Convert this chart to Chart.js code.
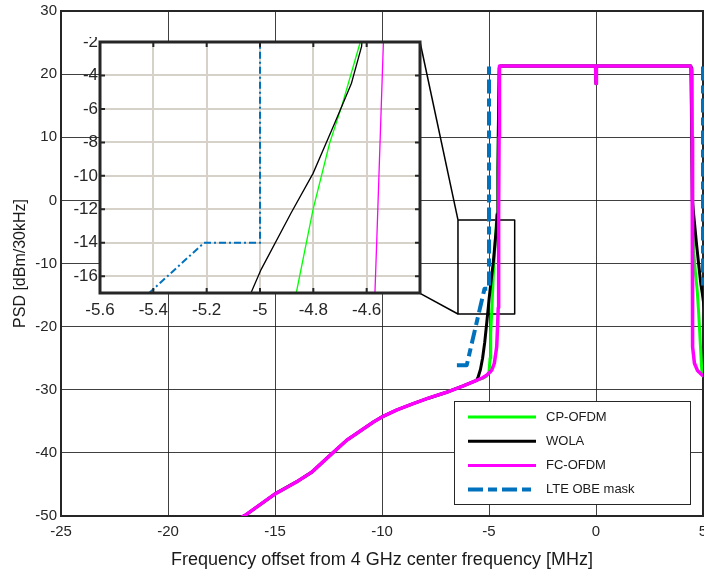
<!DOCTYPE html>
<html>
<head>
<meta charset="utf-8">
<script src="https://cdn.jsdelivr.net/npm/chart.js@4.4.0/dist/chart.umd.min.js"></script>
<style>
    html, body { margin: 0; padding: 0; background: #fff; }
    #wrap { position: relative; width: 704px; height: 572px; }
    #main { position: absolute; left: 0; top: 0; }
    #inset { position: absolute; left: 50px; top: 37px; }
</style>
</head>
<body>
<div id="wrap">
    <canvas id="main" width="704" height="572"></canvas>
    <canvas id="inset" width="375" height="290"></canvas>
</div>
<script>
// out-of-band floor, shared by the three waveforms
const floorFreq = [-17.0, -16.4, -15.0, -14.0, -13.28, -12.43, -11.65, -10.4, -10.0, -9.3, -8.54, -7.8, -6.98, -6.2, -5.58];
const floorPsd  = [-51.0, -49.9, -46.5, -44.6, -43.05, -40.4, -38.0, -35.1, -34.3, -33.2, -32.2, -31.3, -30.4, -29.4, -28.5];

// passband (with the DC notch)
const bandFreq = [-4.45, -0.02, 0, 0.02, 4.42];
const bandPsd  = [21.3, 21.3, 18.5, 21.3, 21.3];

// CP-OFDM edges
const cpLeftFreq  = [-5.3, -5.1, -5.0, -4.95, -4.92, -4.864, -4.801, -4.739, -4.694, -4.625, -4.58, -4.55, -4.52];
const cpLeftPsd   = [-28.2, -27.8, -27.2, -25.0, -21.0, -17.0, -12.0, -8.05, -5.86, -2.06, 5.0, 15.0, 21.0];
const cpRightFreq = [4.44, 4.48, 4.52, 4.56, 4.66, 4.73, 4.8, 4.88, 4.95, 5.1];
const cpRightPsd  = [21.0, 10.0, 0.0, -8.0, -12.0, -14.3, -18.0, -23.0, -27.4, -28.2];

// WOLA edges
const wolaLeftFreq  = [-5.5, -5.4, -5.3, -5.2, -5.1, -5.034, -4.996, -4.883, -4.801, -4.72, -4.657, -4.619, -4.58, -4.55, -4.52];
const wolaLeftPsd   = [-27.9, -26.8, -25.0, -22.5, -19.2, -17.0, -15.6, -12.2, -9.85, -6.85, -4.46, -2.26, 5.0, 15.0, 21.0];
const wolaRightFreq = [4.44, 4.47, 4.5, 4.6, 4.7, 4.8, 4.9, 4.97, 5.1];
const wolaRightPsd  = [21.0, 10.0, 0.0, -3.5, -7.0, -10.2, -13.3, -14.8, -18.0];

// FC-OFDM edges
const fcLeftFreq  = [-5.3, -5.11, -4.95, -4.87, -4.75, -4.64, -4.6, -4.569, -4.562, -4.537, -4.53, -4.52, -4.5];
const fcLeftPsd   = [-28.1, -27.7, -27.2, -26.9, -25.8, -23.2, -20.0, -17.0, -13.8, -1.9, 10.0, 20.5, 21.3];
const fcRightFreq = [4.47, 4.49, 4.5, 4.51, 4.53, 4.6, 4.75, 4.97, 5.2];
const fcRightPsd  = [20.5, 10.0, -10.0, -20.0, -23.2, -25.8, -27.0, -27.7, -28.1];

// LTE out-of-band emission mask
const maskFreq = [-6.5, -6.04, -5.21, -5.0, -5.0, 0, 5.0, 5.0, 5.21, 6.04, 6.5];
const maskPsd  = [-26.1, -26.1, -14.0, -14.0, 21.2, null, 21.2, -14.0, -14.0, -26.1, -26.1];

// zoom box on the main axes and the lines going to the inset corners
const boxFreq = [-6.45, -3.8, -3.8, -6.45, -6.45];
const boxPsd  = [-3.1, -3.1, -18.0, -18.0, -3.1];
const linkTopFreq = [-8.22, -6.45];
const linkTopPsd  = [25.05, -3.1];
const linkBotFreq = [-8.22, -6.45];
const linkBotPsd  = [-14.72, -18.0];

const labels = ['CP-OFDM', 'WOLA', 'FC-OFDM', 'LTE OBE mask'];
const colores = ['#00ff00', '#000000', '#ff00ff', '#0072bd'];

const xTicksMain = { min: -25, max: 5, step: 5 };
const yTicksMain = { min: -50, max: 30, step: 10 };
const xTicksInset = { min: -5.6, max: -4.4, step: 0.2 };
const yTicksInset = { min: -17, max: -2, step: 2 };

function puntos(xs, ys) {
    return xs.map((x, i) => ({ x: x, y: ys[i] }));
}

const cpData = puntos(floorFreq.concat(cpLeftFreq, bandFreq, cpRightFreq), floorPsd.concat(cpLeftPsd, bandPsd, cpRightPsd));
const wolaData = puntos(floorFreq.concat(wolaLeftFreq, bandFreq, wolaRightFreq), floorPsd.concat(wolaLeftPsd, bandPsd, wolaRightPsd));
const fcData = puntos(floorFreq.concat(fcLeftFreq, bandFreq, fcRightFreq), floorPsd.concat(fcLeftPsd, bandPsd, fcRightPsd));
const maskData = puntos(maskFreq, maskPsd);

Chart.defaults.font.family = '"Liberation Sans", Arial, sans-serif';
Chart.defaults.color = '#262626';

const fuente = '"Liberation Sans", Arial, sans-serif';

// frame + legend for the main axes
const marcoMain = {
    id: 'marcoMain',
    beforeDatasetsDraw(chart) {
        const { ctx, chartArea: a } = chart;
        ctx.save();
        ctx.strokeStyle = '#262626';
        ctx.lineWidth = 2;
        ctx.strokeRect(a.left, a.top, a.right - a.left, a.bottom - a.top);
        ctx.restore();
    },
    afterDraw(chart) {
        const ctx = chart.ctx;
        ctx.save();
        ctx.fillStyle = '#ffffff';
        ctx.fillRect(454.5, 401.5, 236, 103);
        ctx.strokeStyle = '#262626';
        ctx.lineWidth = 1;
        ctx.strokeRect(454.5, 401.5, 236, 103);
        ctx.font = '13px ' + fuente;
        ctx.textBaseline = 'middle';
        ctx.textAlign = 'left';
        labels.forEach((label, i) => {
            const y = 417 + i * 24.2;
            ctx.beginPath();
            ctx.strokeStyle = colores[i];
            ctx.lineWidth = i === 3 ? 4 : 3;
            ctx.setLineDash(i === 3 ? [15, 5, 9, 5] : []);
            ctx.moveTo(468, y);
            ctx.lineTo(536, y);
            ctx.stroke();
            ctx.setLineDash([]);
            ctx.fillStyle = '#1a1a1a';
            ctx.fillText(label, 546, y);
        });
        ctx.restore();
    }
};

const ctxMain = document.getElementById('main').getContext('2d');
const graficaMain = new Chart(ctxMain, {
    type: 'line',
    data: {
        datasets: [
            { label: labels[3], data: maskData, borderColor: colores[3], borderWidth: 4, borderDash: [14, 5, 8, 5], spanGaps: false, order: 0, clip: { left: 0, top: 2, right: 3, bottom: 0 } },
            { label: labels[2], data: fcData, borderColor: colores[2], borderWidth: 3.5, order: 1 },
            { label: labels[1], data: wolaData, borderColor: colores[1], borderWidth: 3, order: 2 },
            { label: labels[0], data: cpData, borderColor: colores[0], borderWidth: 3, order: 3 },
            { data: puntos(boxFreq, boxPsd), borderColor: '#000', borderWidth: 1.5, order: 4 },
            { data: puntos(linkTopFreq, linkTopPsd), borderColor: '#000', borderWidth: 1.5, order: 4 },
            { data: puntos(linkBotFreq, linkBotPsd), borderColor: '#000', borderWidth: 1.5, order: 4 }
        ]
    },
    options: {
        responsive: false,
        animation: false,
        elements: { point: { radius: 0 }, line: { tension: 0, borderJoinStyle: 'round' } },
        layout: { padding: { top: 11, right: 1, left: 0, bottom: 0 } },
        plugins: { legend: { display: false }, tooltip: { enabled: false } },
        scales: {
            x: {
                type: 'linear',
                min: xTicksMain.min,
                max: xTicksMain.max,
                ticks: { stepSize: xTicksMain.step, padding: 7, font: { size: 15 }, maxRotation: 0 },
                grid: { color: 'rgba(30,30,30,0.85)', lineWidth: 1, drawTicks: false },
                border: { display: false },
                title: { display: true, text: 'Frequency offset from 4 GHz center frequency [MHz]', font: { size: 18 }, padding: { top: 0, bottom: 1 }, color: '#1a1a1a' },
                afterFit: s => { s.height = 56; s.paddingLeft = 0; s.paddingRight = 0; }
            },
            y: {
                type: 'linear',
                min: yTicksMain.min,
                max: yTicksMain.max,
                ticks: { stepSize: yTicksMain.step, padding: 4, font: { size: 15 } },
                grid: { color: 'rgba(30,30,30,0.85)', lineWidth: 1, drawTicks: false },
                border: { display: false },
                title: { display: true, text: 'PSD [dBm/30kHz]', font: { size: 16 }, padding: { top: 11, bottom: 0 }, color: '#1a1a1a' },
                afterFit: s => { s.width = 61; s.paddingTop = 0; s.paddingBottom = 0; }
            }
        }
    },
    plugins: [marcoMain]
});

// inset: white plot area, thick frame, inward tick marks
const marcoInset = {
    id: 'marcoInset',
    beforeDraw(chart) {
        const { ctx, chartArea: a } = chart;
        ctx.save();
        ctx.fillStyle = '#ffffff';
        ctx.fillRect(a.left, a.top, a.right - a.left, a.bottom - a.top);
        ctx.restore();
    },
    afterDraw(chart) {
        const { ctx, chartArea: a, scales } = chart;
        ctx.save();
        ctx.strokeStyle = '#262626';
        ctx.lineWidth = 2;
        scales.x.ticks.forEach(t => {
            const px = scales.x.getPixelForValue(t.value);
            ctx.beginPath();
            ctx.moveTo(px, a.bottom); ctx.lineTo(px, a.bottom - 5);
            ctx.moveTo(px, a.top); ctx.lineTo(px, a.top + 5);
            ctx.stroke();
        });
        scales.y.ticks.forEach(t => {
            const py = scales.y.getPixelForValue(t.value);
            ctx.beginPath();
            ctx.moveTo(a.left, py); ctx.lineTo(a.left + 5, py);
            ctx.moveTo(a.right, py); ctx.lineTo(a.right - 5, py);
            ctx.stroke();
        });
        ctx.lineWidth = 3;
        ctx.strokeRect(a.left, a.top, a.right - a.left, a.bottom - a.top);
        ctx.restore();
    }
};

const ctxInset = document.getElementById('inset').getContext('2d');
const graficaInset = new Chart(ctxInset, {
    type: 'line',
    data: {
        datasets: [
            { data: maskData, borderColor: colores[3], borderWidth: 2, borderDash: [7, 3, 2, 3], spanGaps: false, order: 0 },
            { data: fcData, borderColor: colores[2], borderWidth: 1.3, order: 1 },
            { data: wolaData, borderColor: colores[1], borderWidth: 1.3, order: 2 },
            { data: cpData, borderColor: colores[0], borderWidth: 1.3, order: 3 }
        ]
    },
    options: {
        responsive: false,
        animation: false,
        elements: { point: { radius: 0 }, line: { tension: 0 } },
        layout: { padding: { top: 5, right: 5, left: 0, bottom: 0 } },
        plugins: { legend: { display: false }, tooltip: { enabled: false } },
        scales: {
            x: {
                type: 'linear',
                min: xTicksInset.min,
                max: xTicksInset.max,
                ticks: {
                    stepSize: xTicksInset.step, padding: 7, font: { size: 17 }, maxRotation: 0, includeBounds: false,
                    callback: v => v > -4.5 ? '' : String(Number(v.toFixed(1)))
                },
                grid: { color: '#d6d2ca', lineWidth: 2, drawTicks: false },
                border: { display: false },
                afterFit: s => { s.height = 34; s.paddingLeft = 0; s.paddingRight = 0; }
            },
            y: {
                type: 'linear',
                min: yTicksInset.min,
                max: yTicksInset.max,
                ticks: {
                    stepSize: yTicksInset.step, padding: 2, font: { size: 17 }, includeBounds: false,
                    callback: v => String(Number(v.toFixed(1)))
                },
                grid: { color: '#d6d2ca', lineWidth: 2, drawTicks: false },
                border: { display: false },
                afterFit: s => { s.width = 50; s.paddingTop = 0; s.paddingBottom = 0; }
            }
        }
    },
    plugins: [marcoInset]
});
</script>
</body>
</html>
